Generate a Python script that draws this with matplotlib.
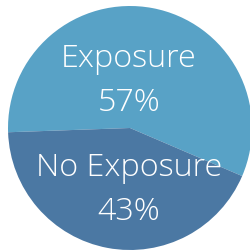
import matplotlib.pyplot as plt

labels = ["Exposure", "No Exposure"]
shares = [57, 43]
colors = ["#58a2c6", "#4b78a3"]

fig = plt.figure(figsize=(2.5, 2.51), dpi=100)
ax = fig.add_axes([0, 0, 1, 1])

ax.pie(shares, colors=colors, startangle=-23.2, counterclock=True,
       wedgeprops=dict(linewidth=0))

# label positions (data coords, pie radius = 1)
label_pos = [(-0.01, 0.511, 0.148), (-0.01, -0.383, -0.746)]
for lab, val, (x, y1, y2) in zip(labels, shares, label_pos):
    ax.text(x, y1, lab, ha="center", va="baseline", color="white",
            fontsize=23.2, family="Open Sans", fontweight="light")
    ax.text(x, y2, f"{val}%", ha="center", va="baseline", color="white",
            fontsize=23.2, family="Open Sans", fontweight="light")

ax.set_xlim(-1.0656, 0.9836)
ax.set_ylim(-1.0, 1.0574)
ax.set_aspect("auto")
ax.axis("off")

fig.savefig("out.png", dpi=100)
